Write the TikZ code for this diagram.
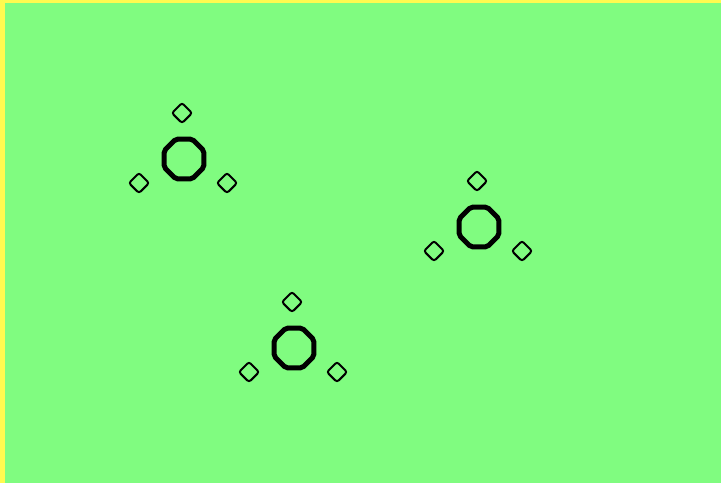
\documentclass[tikz,border=0pt]{standalone}
\usetikzlibrary{shapes.geometric}
\definecolor{bggreen}{RGB}{128,252,128}
\definecolor{edgeyellow}{RGB}{255,250,80}
\tikzset{
  bigring/.style={regular polygon, regular polygon sides=8, draw=black, line width=5pt, minimum size=43pt, inner sep=0pt, rounded corners=2pt},
  smallring/.style={diamond, draw=black, line width=2pt, minimum width=21pt, minimum height=21pt, inner sep=0pt, rounded corners=2.5pt}
}
\begin{document}
\begin{tikzpicture}[x=1pt,y=-1pt]
\useasboundingbox (0,0) rectangle (721,483);
\fill[edgeyellow] (0,0) rectangle (721,483);
\fill[bggreen] (5,3) rectangle (721,483);
\foreach \n/\cx/\cy in {a/184/159, b/479/227, c/294/348}{
  \node[bigring] (\n c) at (\cx,\cy) {};
  \node[smallring] (\n t) at (\cx-2,\cy-46) {};
  \node[smallring] (\n l) at (\cx-45,\cy+24) {};
  \node[smallring] (\n r) at (\cx+43,\cy+24) {};
}
\end{tikzpicture}
\end{document}
